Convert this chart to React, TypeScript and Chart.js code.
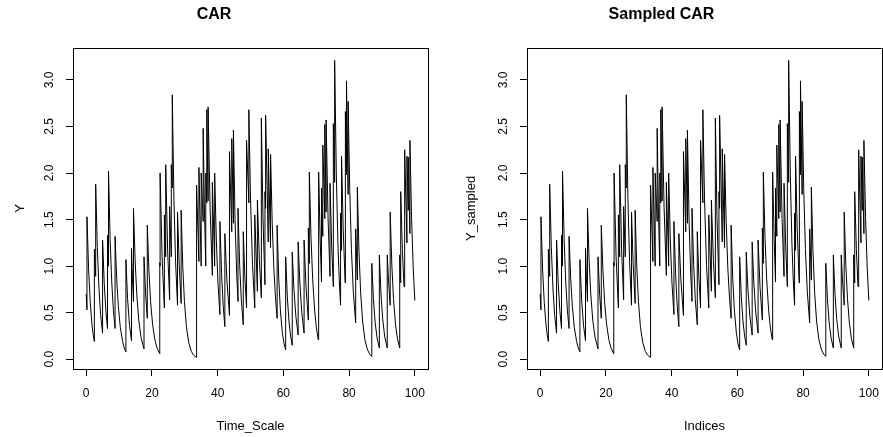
import React, { useEffect, useRef } from "react";
import { Chart, registerables } from "chart.js";

Chart.register(...registerables);

const FONT = "'Liberation Sans', Arial, Helvetica, sans-serif";

// Tick values / axis ranges (R style: 4% extension of data range)
const xTickValues = [0, 20, 40, 60, 80, 100];
const yTickValues = [0, 0.5, 1, 1.5, 2, 2.5, 3];
const xRange = [-4, 104];
const yRange = [-0.105, 3.345];

// CAR path: [time, Y]
const carPoints: [number, number][] = [
  [0, 0.70], [0.25, 0.53],
  [0.25, 1.53], [0.75, 0.96], [1.25, 0.61], [1.75, 0.38], [2.1, 0.275], [2.5, 0.19],
  [2.5, 1.18], [2.9, 0.89],
  [2.9, 1.88], [3.4, 1.20], [3.9, 0.76], [4.4, 0.48], [5.0, 0.28],
  [5.0, 1.28], [5.5, 0.815], [6.0, 0.52], [6.5, 0.33],
  [6.5, 1.33], [6.8, 1.0],
  [6.8, 2.02], [7.3, 1.28], [7.8, 0.82], [8.3, 0.52], [8.8, 0.33],
  [8.8, 1.32], [9.3, 0.86], [9.8, 0.565], [10.4, 0.34], [11.1, 0.19], [11.6, 0.12], [12.1, 0.08],
  [12.1, 1.07], [12.6, 0.65], [13.2, 0.36], [13.8, 0.20],
  [13.8, 1.19], [14.1, 0.86], [14.4, 0.62],
  [14.4, 1.62], [14.9, 1.06], [15.4, 0.70], [16.0, 0.42], [16.7, 0.235], [17.6, 0.11],
  [17.6, 1.10], [18.1, 0.70], [18.6, 0.44],
  [18.6, 1.44], [19.1, 0.95], [19.6, 0.62], [20.2, 0.38], [20.9, 0.21], [21.6, 0.117], [22.4, 0.06],
  [22.4, 1.04], [22.5, 1.0],
  [22.5, 2.0], [23.1, 1.10], [23.8, 0.55],
  [23.8, 1.55], [24.2, 1.1],
  [24.2, 2.09], [24.8, 1.16], [25.4, 0.64],
  [25.4, 1.64], [25.9, 1.1],
  [25.9, 2.09], [26.2, 1.84],
  [26.2, 2.84], [26.7, 1.73], [27.2, 1.05], [27.8, 0.58],
  [27.8, 1.58], [28.3, 1.02], [28.9, 0.6],
  [28.9, 1.60], [29.4, 0.99], [29.9, 0.62], [30.5, 0.35], [31.2, 0.18], [32.0, 0.084], [32.7, 0.043], [33.5, 0.02],
  [33.5, 1.02], [33.65, 0.88],
  [33.65, 1.87], [34.3, 1.05],
  [34.3, 2.06], [35.0, 1.0],
  [35.0, 2.0], [35.6, 1.48],
  [35.6, 2.48], [36.0, 1.58], [36.4, 1.0],
  [36.4, 2.0], [36.7, 1.68],
  [36.7, 2.68], [37.1, 1.70],
  [37.1, 2.71], [37.7, 1.63], [38.4, 0.9],
  [38.4, 1.9], [39.1, 1.0],
  [39.1, 2.0], [39.6, 1.28], [40.1, 0.82], [40.7, 0.48],
  [40.7, 1.48], [41.2, 0.92], [41.7, 0.57], [42.2, 0.35],
  [42.2, 1.35], [42.8, 0.86], [43.6, 0.47],
  [43.6, 2.23], [44.3, 1.37],
  [44.3, 2.37], [44.8, 1.46],
  [44.8, 2.46], [45.3, 1.50], [45.8, 0.92], [46.2, 0.62],
  [46.2, 1.62], [46.7, 1.02], [47.2, 0.64], [47.8, 0.37],
  [47.8, 1.37], [48.3, 0.87], [48.8, 0.55],
  [48.8, 2.35], [49.5, 1.68],
  [49.5, 2.68], [50.0, 1.73], [50.6, 1.02], [51.3, 0.55],
  [51.3, 1.55], [52.1, 0.73],
  [52.1, 1.71], [52.7, 1.06], [53.3, 0.66],
  [53.3, 2.59], [53.8, 1.52], [54.4, 0.8],
  [54.4, 1.8], [54.6, 1.62],
  [54.6, 2.62], [55.4, 1.26],
  [55.4, 2.26], [56.1, 1.2],
  [56.1, 2.2], [56.6, 1.47], [57.1, 0.98], [57.6, 0.66], [58.1, 0.44],
  [58.1, 1.44], [58.6, 0.86], [59.1, 0.52], [59.7, 0.28], [60.2, 0.167], [60.7, 0.10],
  [60.7, 1.10], [61.2, 0.67], [61.7, 0.41], [62.2, 0.25], [62.7, 0.15],
  [62.7, 1.15], [63.2, 0.76], [63.8, 0.46], [64.5, 0.26],
  [64.5, 1.26], [65.0, 0.83], [65.6, 0.50], [66.3, 0.28],
  [66.3, 1.28], [66.9, 0.77], [67.6, 0.42],
  [67.6, 1.41], [67.9, 1.03],
  [67.9, 2.01], [68.4, 1.32], [68.9, 0.87], [69.5, 0.53], [70.0, 0.35], [70.6, 0.21],
  [70.6, 1.21], [70.8, 1.02],
  [70.8, 2.01], [71.2, 1.29], [71.6, 0.83],
  [71.6, 1.84], [72.0, 1.32],
  [72.0, 2.30], [72.6, 1.51],
  [72.6, 2.52], [73.0, 1.58],
  [73.0, 2.57], [73.6, 1.51], [74.2, 0.89],
  [74.2, 1.89], [74.7, 1.21], [75.2, 0.78],
  [75.2, 2.53], [75.6, 1.9],
  [75.6, 3.21], [76.1, 2.0], [76.6, 1.24], [77.0, 0.85], [77.4, 0.58],
  [77.4, 1.57], [77.7, 1.17],
  [77.7, 2.18], [78.2, 1.40], [78.8, 0.82],
  [78.8, 1.82], [78.9, 1.66],
  [78.9, 2.66], [79.2, 1.98],
  [79.2, 2.99], [79.7, 1.77],
  [79.7, 2.77], [80.2, 1.81], [80.7, 1.18], [81.3, 0.71], [82.0, 0.39],
  [82.0, 1.40], [82.5, 0.85],
  [82.5, 1.85], [83.0, 1.16], [83.5, 0.72], [84.1, 0.41], [84.8, 0.21], [85.6, 0.10], [86.3, 0.053], [86.9, 0.03],
  [86.9, 1.03], [87.4, 0.65], [87.9, 0.40], [88.5, 0.23], [89.2, 0.12],
  [89.2, 1.12], [89.7, 0.70], [90.2, 0.44], [90.8, 0.25], [91.6, 0.12],
  [91.6, 1.12], [92.0, 0.84], [92.5, 0.58],
  [92.5, 1.58], [93.0, 1.01], [93.5, 0.65], [94.1, 0.38], [94.7, 0.22], [95.4, 0.12],
  [95.4, 1.12], [95.7, 0.82],
  [95.7, 1.80], [96.2, 1.18], [96.7, 0.78],
  [96.7, 1.78], [97.0, 1.4],
  [97.0, 2.25], [97.6, 1.25],
  [97.6, 2.18], [98.0, 1.6],
  [98.0, 2.17], [98.5, 1.35],
  [98.5, 2.35], [99.0, 1.52], [99.5, 0.98], [100, 0.63],
];

// The sampled series traces the same path
const sampledPoints: [number, number][] = carPoints;

const boxPlugin = {
  id: "rbox",
  afterDraw(chart: any) {
    const { ctx, chartArea: a } = chart;
    ctx.save();
    ctx.strokeStyle = "#000";
    ctx.lineWidth = 1;
    ctx.strokeRect(
      Math.round(a.left) + 0.5,
      Math.round(a.top) + 0.5,
      Math.round(a.right) - Math.round(a.left),
      Math.round(a.bottom) - Math.round(a.top)
    );
    ctx.restore();
  },
};

type PanelProps = {
  left: number;
  width: number;
  title: string;
  xLabel: string;
  yLabel: string;
  points: [number, number][];
  yAxisWidth: number;
  rightPad: number;
  yTitlePad: number;
};

function Panel({ left, width, title, xLabel, yLabel, points, yAxisWidth, rightPad, yTitlePad }: PanelProps) {
  const ref = useRef<HTMLCanvasElement>(null);
  useEffect(() => {
    const chart = new Chart(ref.current as HTMLCanvasElement, {
      type: "line",
      data: {
        datasets: [
          {
            data: points.map(([x, y]) => ({ x, y })),
            borderColor: "#000",
            borderWidth: 1,
            pointRadius: 0,
            tension: 0,
            fill: false,
          },
        ],
      },
      options: {
        responsive: false,
        animation: false,
        devicePixelRatio: 1,
        layout: { padding: { left: 0, right: rightPad, top: 0, bottom: 0 } },
        plugins: {
          legend: { display: false },
          tooltip: { enabled: false },
          title: {
            display: true,
            text: title,
            color: "#000",
            font: { family: FONT, size: 16, weight: "bold" },
            padding: { top: 5.4, bottom: 23.2 },
          },
        },
        scales: {
          x: {
            type: "linear",
            min: xRange[0],
            max: xRange[1],
            afterBuildTicks: (s: any) => {
              s.ticks = xTickValues.map((v) => ({ value: v }));
            },
            afterFit: (s: any) => {
              s.height = 68;
              s.paddingLeft = 0;
              s.paddingRight = 0;
            },
            ticks: {
              color: "#000",
              font: { family: FONT, size: 12 },
              padding: 10,
              minRotation: 0,
              maxRotation: 0,
              autoSkip: false,
              callback: (v: any) => String(v),
            },
            grid: { drawOnChartArea: false, drawTicks: true, tickLength: 7, color: "#000", lineWidth: 1 },
            border: { display: false },
            title: {
              display: true,
              text: xLabel,
              color: "#000",
              font: { family: FONT, size: 13 },
              padding: { top: 0, bottom: 2.5 },
            },
          },
          y: {
            type: "linear",
            min: yRange[0],
            max: yRange[1],
            afterBuildTicks: (s: any) => {
              s.ticks = yTickValues.map((v) => ({ value: v }));
            },
            afterFit: (s: any) => {
              s.width = yAxisWidth;
              s.paddingTop = 0;
              s.paddingBottom = 0;
            },
            ticks: {
              color: "#000",
              font: { family: FONT, size: 12 },
              padding: 8,
              minRotation: 90,
              maxRotation: 90,
              crossAlign: "center",
              autoSkip: false,
              callback: (v: any) => Number(v).toFixed(1),
            },
            grid: { drawOnChartArea: false, drawTicks: true, tickLength: 7, color: "#000", lineWidth: 1 },
            border: { display: false },
            title: {
              display: true,
              text: yLabel,
              color: "#000",
              font: { family: FONT, size: 13 },
              padding: { top: yTitlePad, bottom: 0 },
            },
          },
        },
      } as any,
      plugins: [boxPlugin],
    });
    return () => chart.destroy();
  }, []);
  return (
    <canvas
      ref={ref}
      width={width}
      height={437}
      style={{ position: "absolute", left, top: 0, width, height: 437, display: "block" }}
    />
  );
}

export default function App() {
  return (
    <div style={{ position: "fixed", left: 0, top: 0, width: 883, height: 437, background: "#fff", overflow: "hidden" }}>
      <Panel
        left={0}
        width={441}
        title="CAR"
        xLabel="Time_Scale"
        yLabel="Y"
        points={carPoints}
        yAxisWidth={73}
        rightPad={13}
        yTitlePad={12.2}
      />
      <Panel
        left={441}
        width={442}
        title="Sampled CAR"
        xLabel="Indices"
        yLabel="Y_sampled"
        points={sampledPoints}
        yAxisWidth={86}
        rightPad={1}
        yTitlePad={23}
      />
    </div>
  );
}
